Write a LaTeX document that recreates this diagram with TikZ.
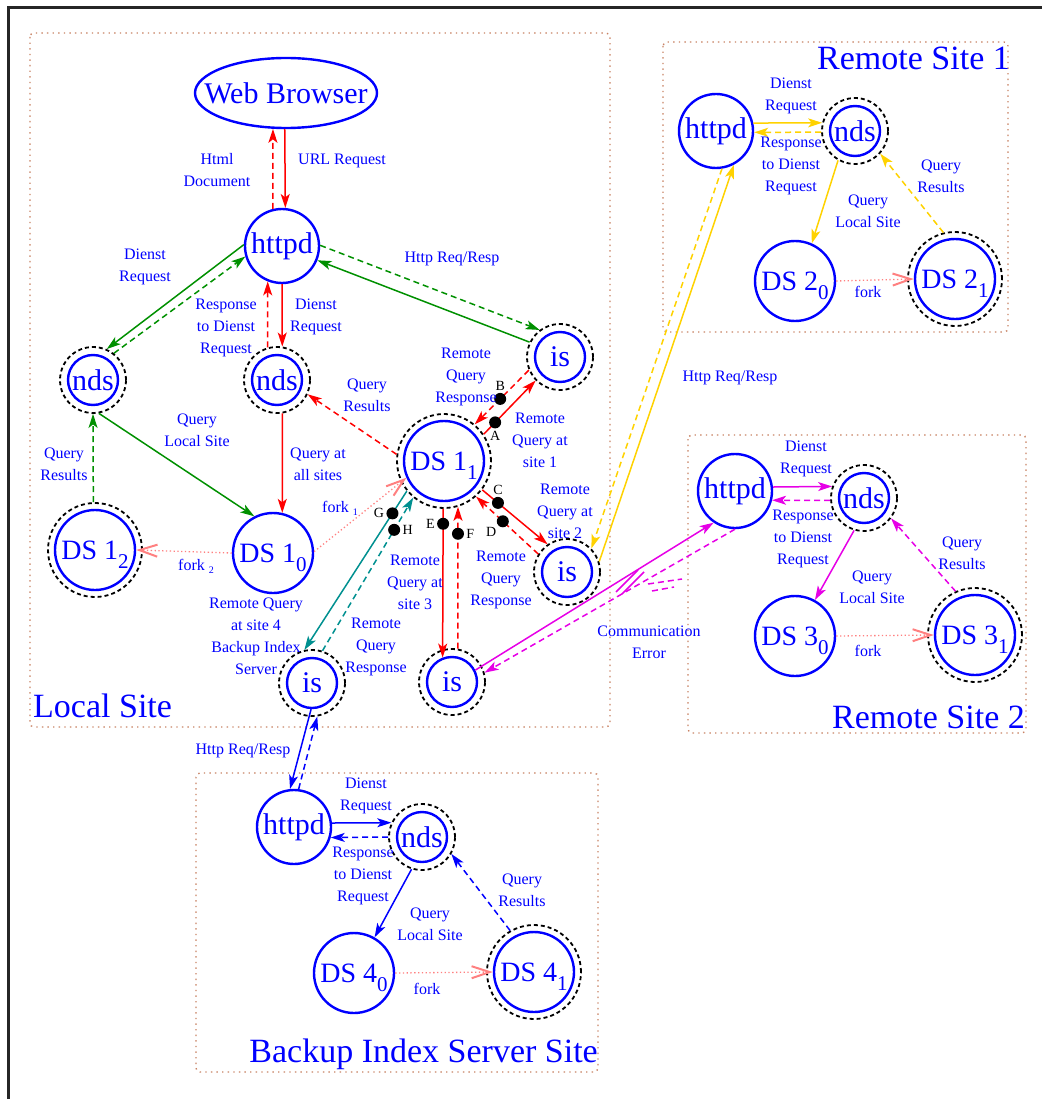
\documentclass[tikz,border=0pt]{standalone}
\usepackage{fontspec}
\setmainfont{Liberation Serif}
\usetikzlibrary{arrows.meta,shapes.geometric}
\definecolor{figgreen}{RGB}{0,144,0}
\definecolor{figgold}{RGB}{255,210,0}
\definecolor{figteal}{RGB}{0,144,144}
\definecolor{figpink}{RGB}{255,128,128}
\definecolor{figmagenta}{RGB}{230,0,230}
\definecolor{figframe}{RGB}{200,130,100}
\newcommand{\dsidx}[1]{\raisebox{-9pt}{\fontsize{21}{21}\selectfont #1}}
\newcommand{\forkidx}[1]{\raisebox{-3pt}{\fontsize{10}{10}\selectfont #1}}

\begin{document}
\begin{tikzpicture}[x=1pt,y=-1pt,
  proc/.style={circle, draw=blue, line width=2.4pt, inner sep=0pt, text=blue, font=\fontsize{30}{30}\selectfont},
  web/.style={proc, minimum size=74pt},
  small/.style={proc, minimum size=50pt},
  store/.style={proc, minimum size=80pt, text depth=0pt, font=\fontsize{28}{28}\selectfont},
  ring/.style={circle, draw=black, line width=1.8pt, dash pattern=on 4pt off 3pt, inner sep=0pt},
  lbl/.style={text=blue, font=\fontsize{16}{22}\selectfont, align=center, inner sep=0pt},
  site/.style={text=blue, font=\fontsize{34}{34}\selectfont, inner sep=0pt},
  sitebox/.style={draw=figframe, line width=1.4pt, dash pattern=on 1.4pt off 4.2pt, rounded corners=4pt},
  req/.style={line width=1.5pt, -{Stealth[length=14pt,width=9pt,inset=3.5pt]}},
  resp/.style={req, dash pattern=on 6pt off 4pt},
  fork/.style={figpink, line width=1.3pt, dash pattern=on 1.3pt off 2.5pt, -{Straight Barb[length=18pt,width=12pt,line width=2pt]}},
  blackdot/.style={circle, fill=black, inner sep=0pt, minimum size=12pt},
  letter/.style={text=black, font=\fontsize{14}{14}\selectfont, inner sep=1pt, label distance=0pt}]
\useasboundingbox (0,0) rectangle (1041,1099);
\draw[black!85, line width=3pt] (8,1120) -- (8,8) -- (1060,8);

% site boxes
\draw[sitebox] (30,33) rectangle (610,727);
\draw[sitebox] (663,42) rectangle (1008,332);
\draw[sitebox] (688,435) rectangle (1026,733);
\draw[sitebox] (196,773) rectangle (598,1072);
\node[site, anchor=base west] (localLbl) at (33,717) {Local Site};
\node[site, anchor=base east] (siteOneLbl) at (1010,70) {Remote Site 1};
\node[site, anchor=base east] (siteTwoLbl) at (1025,728) {Remote Site 2};
\node[site, anchor=base east] (backupLbl) at (598,1062) {Backup Index Server Site};

% local site
\node[ellipse, draw=blue, line width=2.4pt, minimum width=182pt, minimum height=70pt, inner sep=0pt,
  text=blue, font=\fontsize{30}{30}\selectfont] (wb) at (286,93) {\makebox[0pt]{Web Browser}};
\node[web] (httpdL) at (282,246) {httpd};
\node[small] (ndsL1) at (93,380) {nds};
\node[small] (ndsL2) at (277,380) {nds};
\node[store] (ds12) at (95,550) {DS 1\dsidx{2}};
\node[store] (ds10) at (273,553) {DS 1\dsidx{0}};
\node[store] (ds11) at (444,461) {DS 1\dsidx{1}};
\node[small] (is1) at (560,357) {is};
\node[small] (is2) at (567,572) {is};
\node[small] (is3) at (452,682) {is};
\node[small] (is4) at (312,683) {is};

% remote site 1
\node[web] (httpdR1) at (716,131) {httpd};
\node[small] (ndsR1) at (855,131) {nds};
\node[store] (ds20) at (795,281) {DS 2\dsidx{0}};
\node[store] (ds21) at (955,279) {DS 2\dsidx{1}};

% remote site 2
\node[web] (httpdR2) at (735,491) {httpd};
\node[small] (ndsR2) at (864,498) {nds};
\node[store] (ds30) at (795,636) {DS 3\dsidx{0}};
\node[store] (ds31) at (975,635) {DS 3\dsidx{1}};

% backup index server site
\node[web] (httpdBk) at (294,827) {httpd};
\node[small] (ndsBk) at (422,837) {nds};
\node[store] (ds40) at (354,973) {DS 4\dsidx{0}};
\node[store] (ds41) at (534,972) {DS 4\dsidx{1}};

% replica rings
\foreach \n in {ndsL1,ndsL2,is1,is2,is3,is4,ndsR1,ndsR2,ndsBk}
  \node[ring, minimum size=66pt] (\n r) at (\n) {};
\foreach \n in {ds12,ds11,ds21,ds31,ds41}
  \node[ring, minimum size=94pt] (\n r) at (\n) {};

% browser and local httpd
\draw[req, red] (wb.-92) -- (httpdL.85);
\draw[resp, red] (httpdL.104) -- (wb.-110);
\draw[req, figgreen] (httpdL.178) -- (ndsL1r.66);
\draw[resp, figgreen] (ndsL1r.52) -- (httpdL.196);
\draw[req, red] (httpdL.-90) -- (ndsL2r.81);
\draw[resp, red] (ndsL2r.106) -- (httpdL.248);
\draw[req, figgreen] (is1r.154) -- (httpdL.-22);
\draw[resp, figgreen] (httpdL.1) -- (is1r.127);
\draw[req, figgreen] (ndsL1r.-80) -- (ds10.117);
\draw[resp, figgreen] (ds12r.92) -- (ndsL1r.-90);
\draw[req, red] (ndsL2r.-81) -- (ds10.77);
\draw[resp, red] (ds11r.172) -- (ndsL2r.-25);
\draw[fork] (ds10.180) -- (ds12.0);
\draw[fork] (ds10.2) -- (ds11.204);

% DS 1_1 and the index servers
\draw[req, red] (ds11r.34) -- node[blackdot, pos=0.22, label={[letter]below:A}] (dotA) {} (is1r.224);
\draw[resp, red] (is1r.203) -- node[blackdot, pos=0.53, label={[letter]above:B}] (dotB) {} (ds11r.50);
\draw[req, red] (ds11r.-37) -- node[blackdot, pos=0.24, label={[letter]above:C}] (dotC) {} (is2r.125);
\draw[resp, red] (is2r.148) -- node[blackdot, pos=0.57, label={[letter]below left:D}] (dotD) {} (ds11r.-48);
\draw[req, red] (ds11r.-91) -- node[blackdot, pos=0.1, label={[letter]left:E}] (dotE) {} (is3.111);
\draw[resp, red] (is3r.80) -- node[blackdot, pos=0.81, label={[letter]right:F}] (dotF) {} (ds11r.-73);
\draw[req, figteal] (ds11r.-141) -- node[blackdot, pos=0.14, label={[letter]left:G}] (dotG) {} (is4r.103);
\draw[resp, figteal] (is4r.72) -- node[blackdot, pos=0.79, label={[letter]right:H}] (dotH) {} (ds11r.-130);

% links between the sites
\draw[req, figgold] (is2r.18) -- (httpdR1.-62);
\draw[resp, figgold] (httpdR1.-81) -- (is2r.44);
\draw[req, figmagenta] (is3.27) -- (httpdR2.-124);
\draw[resp, figmagenta] (httpdR2.-90) -- (is3r.16);
\draw[figmagenta, line width=1.5pt] (616,592) -- (638,570) (622,594) -- (644,572);
\draw[figmagenta, line width=1.5pt, dash pattern=on 6pt off 4pt] (648,584) -- (682,579) (652,591) -- (674,587);
\draw[req, blue] (is4.-92) -- (httpdBk.96);
\draw[resp, blue] (httpdBk.83) -- (is4r.-81);

% remote site 1
\draw[req, figgold] (httpdR1.12) -- (ndsR1r.166);
\draw[resp, figgold] (ndsR1r.182) -- (httpdR1.-2);
\draw[req, figgold] (ndsR1r.-120) -- (ds20.66);
\draw[resp, figgold] (ds21r.104) -- (ndsR1r.-42);
\draw[fork] (ds20.0) -- (ds21.180);

% remote site 2
\draw[req, figmagenta] (httpdR2.6) -- (ndsR2r.160);
\draw[resp, figmagenta] (ndsR2r.184) -- (httpdR2.-14);
\draw[req, figmagenta] (ndsR2r.-107) -- (ds30.61);
\draw[resp, figmagenta] (ds31r.114) -- (ndsR2r.-37);
\draw[fork] (ds30.0) -- (ds31.180);

% backup index server site
\draw[req, blue] (httpdBk.6) -- (ndsBkr.155);
\draw[resp, blue] (ndsBkr.180) -- (httpdBk.-16);
\draw[req, blue] (ndsBkr.-108) -- (ds40.60);
\draw[resp, blue] (ds41r.120) -- (ndsBkr.-30);
\draw[fork] (ds40.0) -- (ds41.180);

% labels, local site
\node[lbl] (tHtml) at (217,170) {Html\\Document};
\node[lbl] (tUrl) at (342,161) {URL Request};
\node[lbl] (tDienstA) at (145,267) {Dienst\\Request};
\node[lbl] (tRespA) at (226,328) {Response\\to Dienst\\Request};
\node[lbl] (tDienstB) at (316,317) {Dienst\\Request};
\node[lbl] (tHttpA) at (452,259) {Http Req/Resp};
\node[lbl] (tLocal) at (197,430) {Query\\Local Site};
\node[lbl] (tResA) at (64,464) {Query\\Results};
\node[lbl] (tAll) at (318,464) {Query at\\all sites};
\node[lbl] (tResB) at (367,395) {Query\\Results};
\node[lbl] (tForkA) at (340,508) {fork \forkidx{1}};
\node[lbl] (tForkB) at (196,566) {fork \forkidx{2}};
\node[lbl] (tRespOne) at (466,377) {Remote\\Query\\Response};
\node[lbl] (tSiteOne) at (540,440) {Remote\\Query at\\site 1};
\node[lbl] (tSiteTwo) at (565,511) {Remote\\Query at\\site 2};
\node[lbl] (tRespTwo) at (501,580) {Remote\\Query\\Response};
\node[lbl] (tSiteThree) at (415,582) {Remote\\Query at\\site 3};
\node[lbl] (tSiteFour) at (256,636) {Remote Query\\at site 4\\Backup Index\\Server};
\node[lbl] (tRespFour) at (376,647) {Remote\\Query\\Response};
\node[lbl] (tError) at (649,642) {Communication\\Error};
\node[lbl] (tHttpB) at (730,378) {Http Req/Resp};
\node[lbl] (tHttpC) at (243,751) {Http Req/Resp};

% labels, remote site 1
\node[lbl] (tDienstR1) at (791,96) {Dienst\\Request};
\node[lbl] (tRespR1) at (791,166) {Response\\to Dienst\\Request};
\node[lbl] (tLocalR1) at (868,211) {Query\\Local Site};
\node[lbl] (tResR1) at (941,176) {Query\\Results};
\node[lbl] (tForkR1) at (868,292) {fork};

% labels, remote site 2
\node[lbl] (tDienstR2) at (806,459) {Dienst\\Request};
\node[lbl] (tRespR2) at (803,539) {Response\\to Dienst\\Request};
\node[lbl] (tLocalR2) at (872,587) {Query\\Local Site};
\node[lbl] (tResR2) at (962,553) {Query\\Results};
\node[lbl] (tForkR2) at (868,651) {fork};

% labels, backup index server site
\node[lbl] (tDienstBk) at (366,796) {Dienst\\Request};
\node[lbl] (tRespBk) at (363,876) {Response\\to Dienst\\Request};
\node[lbl] (tLocalBk) at (430,924) {Query\\Local Site};
\node[lbl] (tResBk) at (522,890) {Query\\Results};
\node[lbl] (tForkBk) at (427,989) {fork};

\end{tikzpicture}
\end{document}
